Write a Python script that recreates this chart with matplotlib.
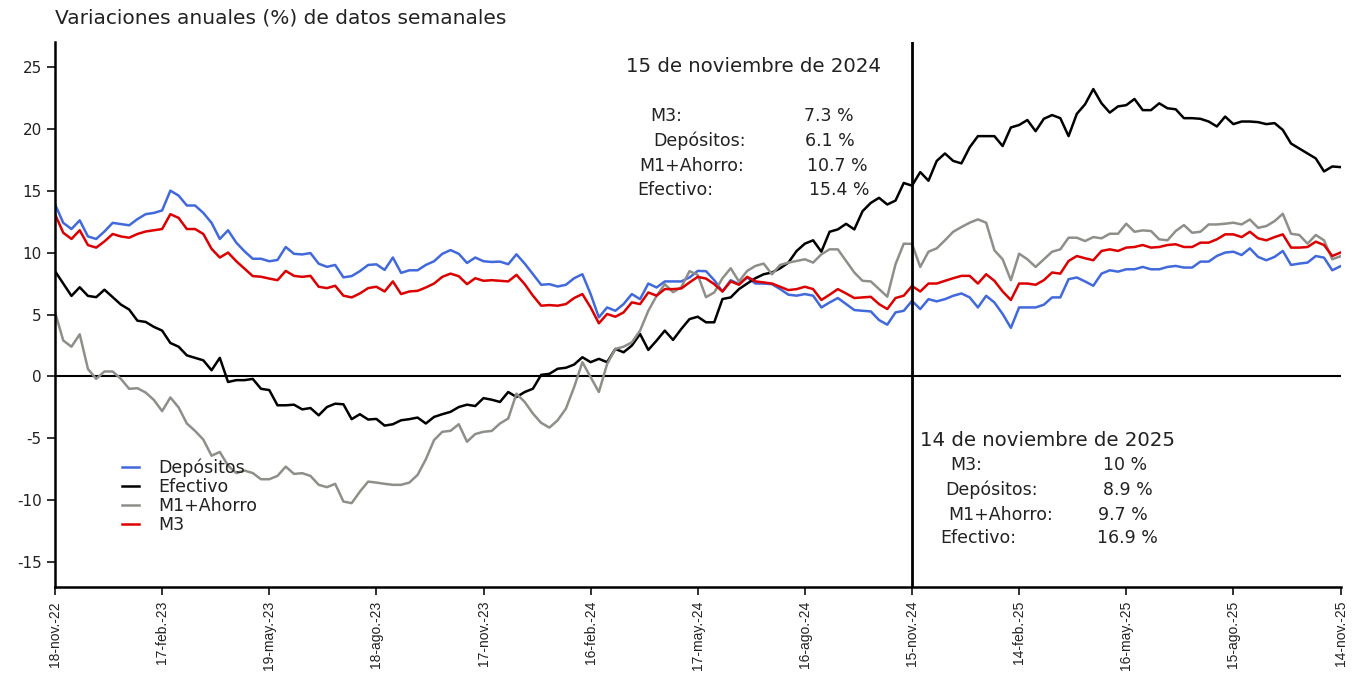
import numpy as np
import pandas as pd
import matplotlib
matplotlib.use("Agg")
from matplotlib import pyplot as plt

plt.rcParams['font.family'] = ['DejaVu Sans']
plt.rcParams['axes.unicode_minus'] = False

# weekly dates, 18-nov-22 .. 14-nov-25
dates = pd.date_range("2022-11-18", periods=157, freq="7D")

depositos = [
    13.9, 12.4, 11.9, 12.6, 11.3, 11.1, 11.7, 12.4, 12.3, 12.2, 12.7, 13.1, 13.2, 13.4, 15.0, 14.6, 13.8, 13.8, 13.2, 12.4,
    11.1, 11.8, 10.8, 10.1, 9.5, 9.5, 9.3,
    9.4, 10.45, 9.9, 9.85, 9.96, 9.1, 8.85, 9.0, 8.0, 8.1, 8.5, 9.0, 9.05, 8.6, 9.6, 8.36, 8.57, 8.57, 9.0, 9.3, 9.9,
    10.2, 9.9, 9.16, 9.6, 9.3,
    9.24, 9.27, 9.06, 9.86, 9.11, 8.25, 7.4, 7.45, 7.26, 7.4, 7.93, 8.25, 6.65, 4.77, 5.57, 5.3, 5.84, 6.65, 6.24, 7.5,
    7.18, 7.67, 7.67, 7.67, 7.99, 8.52, 8.5,
    7.77, 6.86, 7.77, 7.45, 7.99, 7.5, 7.5, 7.45, 7.05, 6.6, 6.52, 6.65, 6.52, 5.57, 5.97, 6.33, 5.84, 5.36, 5.3, 5.25,
    4.55, 4.18, 5.17, 5.3, 6.1,
    5.44, 6.24, 6.06, 6.24, 6.51, 6.7, 6.38, 5.57, 6.51, 5.97, 5.04, 3.92, 5.57, 5.57, 5.57, 5.79, 6.38, 6.38, 7.85, 7.99,
    7.67, 7.32, 8.3, 8.57, 8.46, 8.65, 8.65, 8.84,
    8.65, 8.65, 8.84, 8.92, 8.79, 8.79, 9.27, 9.27, 9.73, 10.0, 10.07, 9.8, 10.34, 9.65, 9.38, 9.65, 10.13, 9.0, 9.11,
    9.19, 9.72, 9.59, 8.57, 8.9,
]

efectivo = [
    8.5, 7.5, 6.5, 7.2, 6.5, 6.4, 7.0, 6.4, 5.8, 5.4, 4.5, 4.4, 4.0, 3.7, 2.7, 2.4, 1.7, 1.5, 1.3, 0.5, 1.5, -0.45, -0.3,
    -0.3, -0.2, -1.0, -1.1,
    -2.33, -2.33, -2.28, -2.66, -2.55, -3.14, -2.47, -2.2, -2.25, -3.45, -3.05, -3.48, -3.43, -3.97, -3.86, -3.54, -3.45,
    -3.32, -3.8, -3.27, -3.05, -2.86, -2.47, -2.28, -2.39, -1.75,
    -1.88, -2.06, -1.26, -1.66, -1.26, -0.99, 0.13, 0.21, 0.62, 0.7, 0.96, 1.55, 1.15, 1.42, 1.15, 2.22, 1.95, 2.49,
    3.43, 2.14, 2.89, 3.7, 2.95, 3.83, 4.63, 4.82, 4.37,
    4.37, 6.25, 6.38, 7.05, 7.5, 7.93, 8.25, 8.39, 8.73, 9.19, 10.13, 10.72, 10.99, 10.07, 11.68, 11.87, 12.32, 11.87,
    13.34, 14.01, 14.42, 13.88, 14.2, 15.62, 15.4,
    16.5, 15.8, 17.4, 18.0, 17.4, 17.2, 18.5, 19.4, 19.4, 19.4, 18.6, 20.1, 20.3, 20.7, 19.8, 20.8, 21.1, 20.85, 19.4,
    21.2, 21.97, 23.2, 22.05, 21.3, 21.8, 21.9, 22.4, 21.5,
    21.5, 22.05, 21.65, 21.57, 20.85, 20.85, 20.8, 20.58, 20.18, 20.98, 20.37, 20.58, 20.58, 20.53, 20.37, 20.45, 19.9,
    18.8, 18.4, 18.0, 17.6, 16.55, 16.95, 16.9,
]

m1_ahorro = [
    5.2, 2.9, 2.4, 3.4, 0.6, -0.2, 0.4, 0.4, -0.2, -1.0, -0.95, -1.3, -1.9, -2.8, -1.7, -2.5, -3.8, -4.4, -5.1, -6.4,
    -6.1, -7.2, -7.8, -7.6, -7.8, -8.3, -8.3,
    -8.03, -7.28, -7.87, -7.81, -8.03, -8.75, -8.94, -8.67, -10.1, -10.23, -9.3, -8.49, -8.57, -8.67, -8.75, -8.75,
    -8.57, -7.95, -6.69, -5.14, -4.47, -4.39, -3.86, -5.27, -4.65, -4.47,
    -4.4, -3.8, -3.4, -1.39, -2.06, -3.0, -3.75, -4.13, -3.54, -2.6, -0.86, 1.15, -0.06, -1.26, 1.0, 2.22, 2.4, 2.75,
    3.7, 5.3, 6.5, 7.45, 6.8, 7.2, 8.5, 8.2, 6.4,
    6.78, 7.93, 8.73, 7.67, 8.52, 8.92, 9.11, 8.25, 9.0, 9.19, 9.32, 9.46, 9.19, 9.86, 10.26, 10.26, 9.32, 8.39, 7.72,
    7.67, 7.05, 6.44, 9.06, 10.72, 10.7,
    8.84, 10.07, 10.34, 10.99, 11.68, 12.06, 12.41, 12.68, 12.41, 10.18, 9.46, 7.77, 9.91, 9.46, 8.84, 9.46, 10.07,
    10.26, 11.2, 11.2, 10.93, 11.25, 11.15, 11.52, 11.52, 12.33, 11.68, 11.79,
    11.74, 11.07, 10.99, 11.74, 12.22, 11.6, 11.68, 12.27, 12.27, 12.33, 12.41, 12.27, 12.67, 12.0, 12.14, 12.54,
    13.13, 11.52, 11.42, 10.72, 11.42, 10.99, 9.46, 9.7,
]

m3 = [
    13.1, 11.6, 11.1, 11.8, 10.6, 10.4, 10.9, 11.5, 11.3, 11.2, 11.5, 11.7, 11.8, 11.9, 13.1, 12.8, 11.9, 11.9, 11.5,
    10.3, 9.6, 10.0, 9.3, 8.7, 8.1, 8.05, 7.9,
    7.77, 8.52, 8.12, 8.04, 8.12, 7.24, 7.13, 7.32, 6.52, 6.38, 6.7, 7.13, 7.24, 6.86, 7.67, 6.65, 6.86, 6.91, 7.18,
    7.5, 8.04, 8.3, 8.09, 7.45, 7.93, 7.72,
    7.77, 7.72, 7.67, 8.2, 7.45, 6.52, 5.71, 5.76, 5.71, 5.84, 6.33, 6.65, 5.57, 4.29, 5.04, 4.82, 5.17, 5.98, 5.84,
    6.78, 6.52, 7.05, 7.05, 7.1, 7.59, 8.04, 7.9,
    7.45, 6.86, 7.67, 7.4, 8.04, 7.67, 7.59, 7.5, 7.24, 6.97, 7.05, 7.24, 7.05, 6.17, 6.6, 7.05, 6.7, 6.33, 6.38, 6.43,
    5.84, 5.44, 6.33, 6.52, 7.3,
    6.86, 7.5, 7.5, 7.72, 7.93, 8.12, 8.12, 7.5, 8.25, 7.72, 6.86, 6.17, 7.5, 7.5, 7.4, 7.77, 8.39, 8.3, 9.32, 9.72,
    9.54, 9.38, 10.13, 10.26, 10.13, 10.4, 10.45, 10.61,
    10.4, 10.45, 10.61, 10.67, 10.45, 10.45, 10.8, 10.8, 11.07, 11.47, 11.47, 11.25, 11.68, 11.15, 10.99, 11.25,
    11.47, 10.4, 10.4, 10.45, 10.88, 10.61, 9.72, 10.0,
]

meses = ["ene", "feb", "mar", "abr", "may", "jun", "jul", "ago", "sep", "oct", "nov", "dic"]
tick_dates = dates[::13]
tick_labels = [f"{d.day}-{meses[d.month - 1]}.-{d.strftime('%y')}" for d in tick_dates]

y_ticks = [-15, -10, -5, 0, 5, 10, 15, 20, 25]

marca1 = ["15 de noviembre de 2024", ("M3:", "7.3 %"), ("Depósitos:", "6.1 %"),
          ("M1+Ahorro:", "10.7 %"), ("Efectivo:", "15.4 %")]
marca2 = ["14 de noviembre de 2025", ("M3:", "10 %"), ("Depósitos:", "8.9 %"),
          ("M1+Ahorro:", "9.7 %"), ("Efectivo:", "16.9 %")]

W, H = 1359, 674
fig = plt.figure(figsize=(W / 100, H / 100), dpi=100)
ax = fig.add_axes([55 / W, 1 - 587 / H, (1340.5 - 55) / W, (587 - 42) / H])

ax.plot(dates, depositos, color="#4169DC", lw=1.8, label="Depósitos")
ax.plot(dates, efectivo, color="black", lw=1.8, label="Efectivo")
ax.plot(dates, m1_ahorro, color="#8F8F8A", lw=1.8, label="M1+Ahorro")
ax.plot(dates, m3, color="#DD0000", lw=1.8, label="M3")

ax.axhline(0, color="black", lw=1.5, zorder=1)
ax.axvline(dates[104], color="black", lw=2)

ax.set_xlim(dates[0], dates[-1])
ax.set_ylim(-17, 27)
ax.set_yticks(y_ticks)
ax.set_xticks(tick_dates)
ax.set_xticklabels(tick_labels, rotation=90, family=["Liberation Sans", "DejaVu Sans"])
ax.tick_params(axis="y", labelsize=11, width=1.3, length=6, colors="#222222")
ax.tick_params(axis="x", labelsize=10, width=1.3, length=6, pad=4, colors="#222222")
for s in ["top", "right"]:
    ax.spines[s].set_visible(False)
for s in ["left", "bottom"]:
    ax.spines[s].set_linewidth(1.8)

leg = ax.legend(loc="upper left", bbox_to_anchor=(106 / W, 1 - 443 / H), bbox_transform=fig.transFigure,
                frameon=False, fontsize=12.5, handlelength=1.0, handletextpad=1.1, labelspacing=0.05)
for t in leg.get_texts():
    t.set_color("#222222")

def px(x, y, s, size=12.5, ha="left"):
    fig.text(x / W, 1 - y / H, s, fontsize=size, ha=ha, va="center", color="#222222")

fig.text(55 / W, 1 - 18 / H, "Variaciones anuales (%) de datos semanales", fontsize=14.5, va="center",
         color="#222222")

# caja 15-nov-24
px(753, 67, marca1[0], size=14.2, ha="center")
lx1 = [650, 653, 639, 637]
vx1 = [804, 805, 807, 809]
ys1 = [116, 141, 166, 190]
for (lab, val), x0, x1, y in zip(marca1[1:], lx1, vx1, ys1):
    px(x0, y, lab)
    px(x1, y, val)

# caja 14-nov-25
px(1047, 440, marca2[0], size=14.2, ha="center")
lx2 = [950, 945, 948, 940]
vx2 = [1103, 1103, 1098, 1097]
ys2 = [465, 490, 515, 538]
for (lab, val), x0, x1, y in zip(marca2[1:], lx2, vx2, ys2):
    px(x0, y, lab)
    px(x1, y, val)

fig.savefig("out.png", dpi=100)
